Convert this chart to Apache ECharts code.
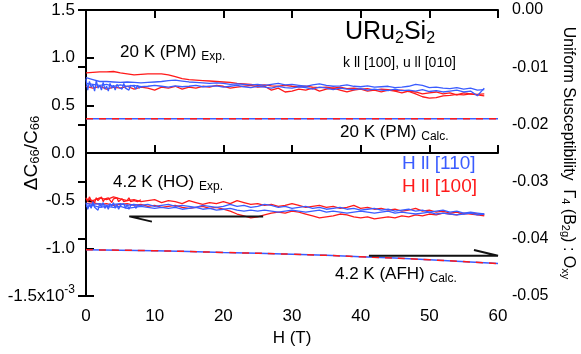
<!DOCTYPE html>
<html>
<head>
<meta charset="utf-8">
<script src="https://cdn.jsdelivr.net/npm/echarts@6/dist/echarts.min.js"></script>
<style>
  html, body { margin: 0; padding: 0; background: #fff; }
  #chart { width: 581px; height: 354px; }
</style>
</head>
<body>
<div id="chart"></div>
<script>
// field grid (T) for the measured traces
const field = [0,1,2,3,4,5,6,7,8,9,10,11,12,13,14,15,16,17,18,19,20,21,22,23,24,25,26,27,28,29,
  30,31,32,33,34,35,36,37,38,39,40,41,42,43,44,45,46,47,48,49,50,51,52,53,54,55,56,57,58];
const fieldLow = [0,0.25,0.5,0.75,1,1.25,1.5,1.75,2,2.25,2.5,2.75,3,3.25,3.5,3.75,4,4.25,4.5,4.75,
  5,5.25,5.5,5.75,6,6.25,6.5,6.75,7,7.25,7.5,7.75,8];

// 20 K (PM) exp.
const red20a = [.84,.845,.85,.85,.855,.84,.83,.82,.825,.83,.83,.83,.82,.80,.78,.77,.765,.76,.755,.75,
  .745,.74,.73,.725,.72,.71,.715,.705,.70,.71,.70,.695,.70,.69,.685,.69,.68,.69,.675,.68,
  .67,.675,.66,.67,.665,.655,.66,.645,.62,.59,.575,.58,.60,.605,.615,.61,.62,.615,.62];
const red20b = [.70,.68,.70,.67,.69,.68,.70,.67,.69,.68,.66,.69,.68,.70,.67,.69,.68,.70,.69,.71,
  .70,.68,.69,.70,.71,.69,.70,.66,.68,.64,.65,.67,.66,.68,.65,.67,.68,.66,.64,.66,
  .67,.65,.66,.64,.66,.65,.63,.65,.64,.62,.63,.64,.62,.63,.61,.63,.62,.61,.60];
const blue20a = [.79,.77,.75,.75,.745,.74,.745,.74,.735,.74,.745,.75,.76,.765,.755,.745,.74,.735,.73,.735,
  .73,.72,.725,.72,.715,.72,.71,.72,.73,.715,.72,.71,.70,.715,.725,.71,.70,.705,.715,.70,
  .695,.705,.69,.695,.70,.685,.69,.70,.72,.71,.685,.69,.68,.675,.685,.67,.68,.66,.665];
const blue20b = [.73,.72,.71,.72,.70,.715,.70,.71,.695,.70,.71,.70,.69,.705,.695,.70,.71,.695,.70,.705,
  .69,.70,.71,.695,.685,.70,.69,.68,.70,.685,.68,.695,.685,.67,.69,.68,.665,.68,.67,.665,
  .675,.66,.67,.66,.655,.67,.655,.66,.65,.665,.645,.655,.64,.65,.66,.64,.65,.60,.68];
const blue20n = [.78,.66,.75,.69,.72,.65,.76,.68,.71,.66,.74,.67,.70,.65,.73,.68,.71,.66,.72,.69,
  .70,.67,.73,.68,.70,.66,.71,.69,.70,.67,.71,.68,.70];

// 4.2 K (HO) exp.
const red42a = [-.48,-.50,-.47,-.49,-.46,-.48,-.50,-.49,-.51,-.50,-.49,-.52,-.50,-.51,-.53,-.50,-.52,-.54,-.52,-.53,
  -.51,-.53,-.50,-.52,-.54,-.53,-.55,-.54,-.56,-.55,-.53,-.55,-.57,-.56,-.55,-.57,-.56,-.58,-.57,-.55,
  -.58,-.57,-.59,-.58,-.60,-.59,-.61,-.60,-.58,-.61,-.60,-.62,-.61,-.63,-.62,-.64,-.63,-.64,-.65];
const red42b = [-.53,-.52,-.54,-.53,-.55,-.54,-.53,-.55,-.54,-.56,-.55,-.57,-.56,-.55,-.57,-.58,-.57,-.56,-.58,-.57,
  -.59,-.61,-.64,-.66,-.68,-.67,-.65,-.63,-.62,-.63,-.61,-.62,-.64,-.66,-.68,-.67,-.66,-.64,-.65,-.67,
  -.68,-.67,-.69,-.68,-.67,-.68,-.66,-.67,-.65,-.66,-.64,-.65,-.63,-.64,-.65,-.63,-.64,-.65,-.66];
const blue42a = [-.53,-.54,-.53,-.55,-.54,-.53,-.55,-.54,-.55,-.54,-.56,-.55,-.54,-.56,-.55,-.56,-.57,-.55,-.56,-.57,
  -.56,-.54,-.56,-.55,-.57,-.56,-.54,-.55,-.57,-.56,-.58,-.57,-.56,-.58,-.57,-.59,-.58,-.57,-.59,-.58,
  -.60,-.59,-.58,-.60,-.59,-.61,-.60,-.59,-.61,-.60,-.62,-.61,-.60,-.62,-.61,-.63,-.62,-.63,-.64];
const blue42b = [-.56,-.55,-.57,-.56,-.57,-.56,-.58,-.57,-.56,-.57,-.58,-.57,-.58,-.57,-.59,-.58,-.57,-.59,-.58,-.60,
  -.59,-.58,-.60,-.61,-.60,-.61,-.60,-.61,-.62,-.61,-.60,-.61,-.62,-.61,-.60,-.62,-.61,-.62,-.63,-.62,
  -.61,-.62,-.63,-.62,-.61,-.63,-.62,-.63,-.64,-.63,-.62,-.64,-.63,-.64,-.65,-.64,-.63,-.65,-.64];
const blue42n = [-.52,-.59,-.54,-.58,-.51,-.57,-.55,-.60,-.53,-.57,-.52,-.58,-.55,-.59,-.53,-.56,-.52,-.58,-.54,-.59,
  -.55,-.57,-.53,-.58,-.54,-.59,-.55,-.57,-.54,-.58,-.55,-.57,-.56];
const red42n = [-.47,-.51,-.46,-.50,-.48,-.52,-.47,-.50,-.49,-.46,-.51,-.48,-.50,-.47,-.49,-.52,-.48,-.50,-.47,-.51,
  -.49,-.48,-.51,-.49,-.50,-.47,-.51,-.49,-.50,-.48,-.51,-.50,-.49];

// calculations
const calcField = [0,10,20,30,40,50,60];
const calcPM20 = [0.36,0.36,0.36,0.36,0.36,0.36,0.36];
const calcAFH42 = [-1.015,-1.025,-1.043,-1.062,-1.088,-1.12,-1.16];

// arrows [H, value]
const arrowLeft = [[25.8,-0.665],[6.3,-0.665],[9.6,-0.72]];
const arrowRight = [[41.2,-1.077],[60,-1.077],[56.5,-1.017]];

const leftTicks = [-1.5, 1.5, 0.5];
const rightTicks = [-0.05, 0, 0.01];

const RED = '#ff1a1a';
const BLUE = '#3a5cff';
const FONT = 'Liberation Sans';

const pairs = (xs, ys) => ys.map((v, i) => [xs[i], v]);

const chart = echarts.init(document.getElementById('chart'));

const trace = (xs, ys, color, w) => ({
  type: 'line', data: pairs(xs, ys), showSymbol: false, symbol: 'none',
  lineStyle: { color: color, width: w || 1.3 }, z: 3
});

const series = [
  trace(field, red20a, RED), trace(field, red20b, RED),
  trace(fieldLow, blue20n, BLUE), trace(field, blue20a, BLUE), trace(field, blue20b, BLUE),
  trace(fieldLow, red42n, RED), trace(field, red42a, RED), trace(field, red42b, RED),
  trace(fieldLow, blue42n, BLUE), trace(field, blue42a, BLUE), trace(field, blue42b, BLUE),
  { type: 'line', data: pairs(calcField, calcPM20), symbol: 'none', lineStyle: { color: BLUE, width: 1.5 }, z: 4 },
  { type: 'line', data: pairs(calcField, calcPM20), symbol: 'none', lineStyle: { color: RED, width: 1.5, type: [7, 6] }, z: 5 },
  { type: 'line', data: pairs(calcField, calcAFH42), smooth: true, symbol: 'none', lineStyle: { color: BLUE, width: 1.5 }, z: 4 },
  { type: 'line', data: pairs(calcField, calcAFH42), smooth: true, symbol: 'none', lineStyle: { color: RED, width: 1.5, type: [7, 6] }, z: 5 },
  { type: 'line', data: arrowLeft, symbol: 'none', lineStyle: { color: '#111', width: 2 }, z: 6 },
  { type: 'line', data: arrowRight, symbol: 'none', lineStyle: { color: '#111', width: 2 }, z: 6 }
];

const axisLine = { show: true, lineStyle: { color: '#000', width: 2 } };
const tickIn = { show: true, inside: true, length: 8, lineStyle: { color: '#000', width: 2 } };
const txt = { color: '#000', fontFamily: FONT };

const option = {
  animation: false,
  grid: { left: 86, right: 83, top: 10, bottom: 58, containLabel: false, outerBoundsMode: 'none' },
  xAxis: [
    {
      type: 'value', min: 0, max: 60, interval: 10,
      axisLine: axisLine, axisTick: tickIn, splitLine: { show: false },
      axisLabel: Object.assign({ fontSize: 17, margin: 12 }, txt),
      name: 'H (T)', nameLocation: 'middle', nameGap: 34,
      nameTextStyle: Object.assign({ fontSize: 17 }, txt)
    },
    {
      type: 'value', position: 'top', min: 0, max: 60, interval: 10,
      axisLine: axisLine, axisTick: tickIn, splitLine: { show: false },
      axisLabel: { show: false }
    }
  ],
  yAxis: [
    {
      type: 'value', min: leftTicks[0], max: leftTicks[1], interval: leftTicks[2],
      axisLine: axisLine, axisTick: tickIn, splitLine: { show: false },
      axisLabel: Object.assign({
        fontSize: 17, margin: 11,
        formatter: v => v === -1.5 ? '-1.5x10{sup|-3}' : v.toFixed(1),
        rich: { sup: { fontSize: 12, fontFamily: FONT, color: '#000', padding: [0, 0, 12, 0] } }
      }, txt),
      name: 'ΔC{sub|66}/C{sub|66}', nameLocation: 'middle', nameGap: 44, nameMoveOverlap: false,
      nameTextStyle: Object.assign({
        fontSize: 19,
        rich: { sub: { fontSize: 13, fontFamily: FONT, color: '#000', padding: [8, 0, 0, 0] } }
      }, txt)
    },
    {
      type: 'value', position: 'right', min: rightTicks[0], max: rightTicks[1], interval: rightTicks[2],
      axisLine: axisLine, axisTick: tickIn, splitLine: { show: false },
      axisLabel: Object.assign({ fontSize: 16, margin: 14, formatter: v => v.toFixed(2) }, txt),
      name: 'Uniform Susceptibility  Γ{sub|4} (B{sub|2g}) : O{sub|xy}',
      nameLocation: 'middle', nameGap: 60, nameRotate: -90,
      nameTextStyle: Object.assign({
        fontSize: 16,
        rich: { sub: { fontSize: 11, fontFamily: FONT, color: '#000', padding: [8, 0, 0, 0] } }
      }, txt)
    }
  ],
  graphic: [
    { type: 'text', left: 345, top: 20, style: { text: 'URu{s|2}Si{s|2}', fontSize: 25, fontFamily: FONT, fill: '#000',
      rich: { s: { fontSize: 16, fontFamily: FONT, fill: '#000', padding: [12, 0, 0, 0] } } } },
    { type: 'text', left: 343, top: 56, style: { text: 'k ll [100], u ll [010]', fontSize: 14, fontFamily: FONT, fill: '#000' } },
    { type: 'text', left: 120, top: 44, style: { text: '20 K (PM) {s|Exp.}', fontSize: 17, fontFamily: FONT, fill: '#000',
      rich: { s: { fontSize: 12, fontFamily: FONT, fill: '#000', padding: [8, 0, 0, 0] } } } },
    { type: 'text', left: 340, top: 124, style: { text: '20 K (PM) {s|Calc.}', fontSize: 17, fontFamily: FONT, fill: '#000',
      rich: { s: { fontSize: 12, fontFamily: FONT, fill: '#000', padding: [8, 0, 0, 0] } } } },
    { type: 'text', left: 402, top: 154, style: { text: 'H ll [110]', fontSize: 19, fontFamily: FONT, fill: BLUE } },
    { type: 'text', left: 402, top: 177, style: { text: 'H ll [100]', fontSize: 19, fontFamily: FONT, fill: RED } },
    { type: 'text', left: 113, top: 174, style: { text: '4.2 K (HO) {s|Exp.}', fontSize: 17, fontFamily: FONT, fill: '#000',
      rich: { s: { fontSize: 12, fontFamily: FONT, fill: '#000', padding: [8, 0, 0, 0] } } } },
    { type: 'text', left: 335, top: 266, style: { text: '4.2 K (AFH) {s|Calc.}', fontSize: 17, fontFamily: FONT, fill: '#000',
      rich: { s: { fontSize: 12, fontFamily: FONT, fill: '#000', padding: [8, 0, 0, 0] } } } }
  ],
  series: series
};

chart.setOption(option);
</script>
</body>
</html>
